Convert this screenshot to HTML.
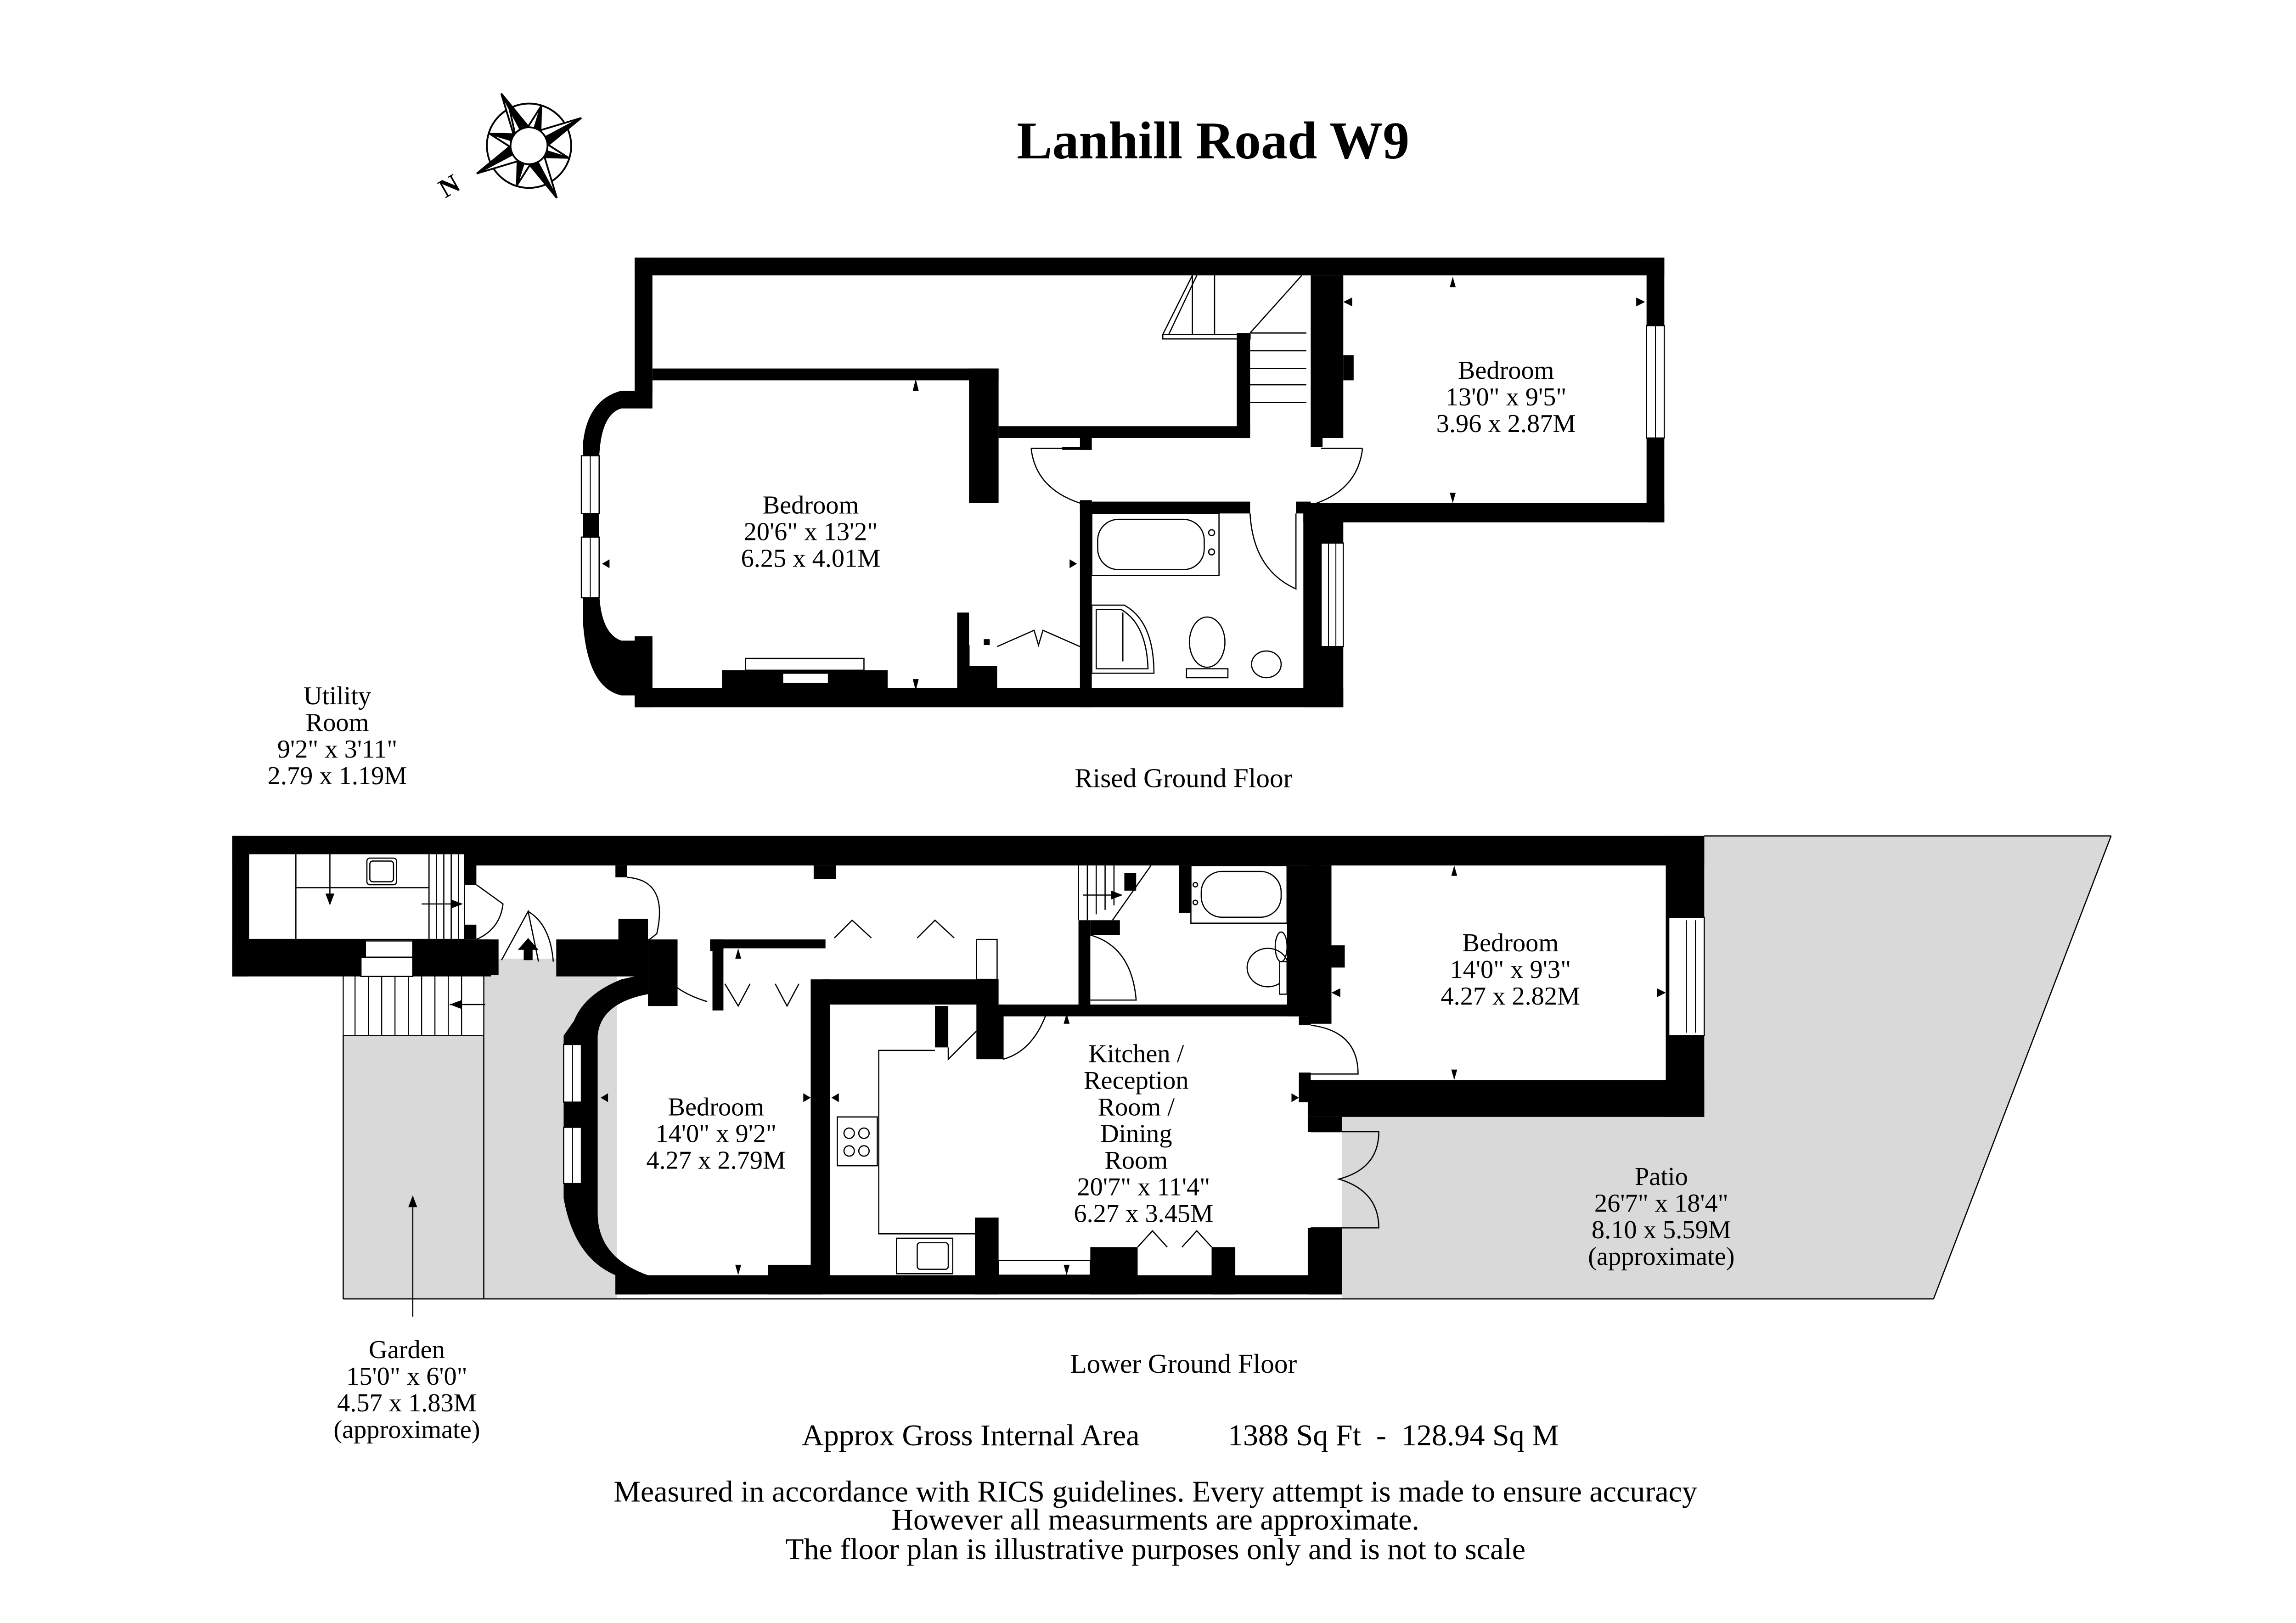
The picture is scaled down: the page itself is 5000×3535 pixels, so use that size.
<!DOCTYPE html>
<html><head><meta charset="utf-8"><style>
html,body{margin:0;padding:0;background:#fff;}
svg{display:block;}
text{font-family:"Liberation Serif",serif;fill:#000;}
</style></head><body>
<svg width="5000" height="3535" viewBox="0 0 1552 1097" xmlns="http://www.w3.org/2000/svg">
<rect width="1552" height="1097" fill="#fff"/>

<!-- Title -->
<text x="820" y="107" font-size="36" font-weight="bold" text-anchor="middle">Lanhill Road W9</text>

<!-- Compass -->
<g transform="translate(357.6,98.4) rotate(-28)" stroke="#000" stroke-width="1.2">
  <circle r="28.5" fill="#fff"/>
  <g id="lp">
    <polygon points="0,-40 -6,-10 0,-12" fill="#fff"/>
    <polygon points="0,-40 6,-10 0,-12" fill="#000"/>
  </g>
  <use href="#lp" transform="rotate(90)"/>
  <use href="#lp" transform="rotate(180)"/>
  <use href="#lp" transform="rotate(270)"/>
  <g id="sp">
    <polygon points="0,-28 -5,-10 0,-12" fill="#fff"/>
    <polygon points="0,-28 5,-10 0,-12" fill="#000"/>
  </g>
  <use href="#sp" transform="rotate(45)"/>
  <use href="#sp" transform="rotate(135)"/>
  <use href="#sp" transform="rotate(225)"/>
  <use href="#sp" transform="rotate(315)"/>
  <circle r="12.5" fill="#fff"/>
</g>
<text x="0" y="0" font-size="18" font-weight="bold" transform="translate(301,134) rotate(-30)">N</text>

<!-- ============ UPPER FLOOR ============ -->
<g fill="#000">
  <rect x="429" y="174" width="696" height="12"/>
  <rect x="429" y="174" width="12" height="92"/>
  <rect x="1113" y="174" width="12" height="179"/>
  <rect x="881" y="340" width="244" height="13"/>
  <rect x="886" y="186" width="22" height="110"/>
  <rect x="908" y="240" width="7" height="17"/>
  <rect x="886" y="296" width="8" height="6"/>
  <rect x="881" y="340" width="27" height="138"/>
  <rect x="441" y="249" width="234" height="8"/>
  <rect x="655" y="249" width="20" height="91"/>
  <rect x="675" y="288" width="170" height="8"/>
  <rect x="836" y="225" width="9" height="71"/>
  <rect x="730" y="296" width="8" height="8"/>
  <rect x="718" y="302" width="20" height="2"/>
  <rect x="730" y="338" width="8" height="140"/>
  <rect x="730" y="339" width="115" height="8"/>
  <rect x="876" y="339" width="10" height="8"/>
  <rect x="429" y="465" width="479" height="13"/>
  <rect x="429" y="430" width="12" height="48"/>
  <rect x="647" y="414" width="8" height="51"/>
  <rect x="655" y="450" width="19" height="15"/>
  <rect x="665" y="432" width="4" height="4"/>
  <rect x="488" y="453" width="112" height="12"/>
</g>
<rect x="529" y="455" width="31" height="7" fill="#fff" stroke="#000" stroke-width="0.8"/>
<rect x="504" y="445" width="80" height="8" fill="#fff" stroke="#000" stroke-width="0.8"/>

<path d="M429,264 L420,264 Q397,270 394,300 L394,420 Q397,465 420,470 L429,470 L441,470 L441,433 L420,433 Q406,428 405,400 L405,310 Q406,280 420,276 L441,276 L441,256 Z" fill="#000"/>
<rect x="393" y="308" width="12" height="39" fill="#fff" stroke="#000" stroke-width="0.8"/>
<rect x="393" y="363" width="12" height="41" fill="#fff" stroke="#000" stroke-width="0.8"/>
<line x1="399" y1="308" x2="399" y2="347" stroke="#000" stroke-width="0.6"/>
<line x1="399" y1="363" x2="399" y2="404" stroke="#000" stroke-width="0.6"/>

<rect x="1113" y="220" width="12" height="76" fill="#fff" stroke="#000" stroke-width="0.8"/>
<line x1="1119" y1="220" x2="1119" y2="296" stroke="#000" stroke-width="0.6"/>
<rect x="893" y="367" width="15" height="70" fill="#fff" stroke="#000" stroke-width="0.8"/>
<line x1="898" y1="367" x2="898" y2="437" stroke="#000" stroke-width="0.6"/>
<line x1="903" y1="367" x2="903" y2="437" stroke="#000" stroke-width="0.6"/>

<g stroke="#000" stroke-width="0.8" fill="none">
  <line x1="845" y1="237" x2="883" y2="237"/>
  <line x1="845" y1="249" x2="883" y2="249"/>
  <line x1="845" y1="260" x2="883" y2="260"/>
  <line x1="845" y1="272" x2="883" y2="272"/>
  <line x1="845" y1="225" x2="883" y2="225"/>
  <line x1="843" y1="225" x2="843" y2="285"/>
  <polygon points="786,226 845,226 845,229 786,229"/>
  <line x1="786" y1="226" x2="806" y2="186"/>
  <line x1="790" y1="226" x2="809" y2="186"/>
  <line x1="806" y1="186" x2="806" y2="226"/>
  <line x1="821" y1="186" x2="821" y2="226"/>
  <line x1="845" y1="225" x2="880" y2="186"/>
</g>
<g stroke="#000" stroke-width="0.8" fill="none">
  <path d="M697,303 Q700,330 730,340"/>
  <line x1="697" y1="303" x2="730" y2="303"/>
  <path d="M921,303 Q918,330 890,340"/>
  <line x1="921" y1="303" x2="893" y2="303"/>
  <path d="M845,347 Q847,385 876,398 L876,347"/>
  <polyline points="674,437 699,426 702,436 705,426 730,437"/>
  <line x1="655" y1="436" x2="655" y2="465"/>
</g>
<g stroke="#000" stroke-width="0.8" fill="#fff">
  <rect x="738" y="347" width="86" height="42"/>
  <rect x="742" y="351" width="72" height="34" rx="14"/>
  <circle cx="819" cy="360" r="2"/>
  <circle cx="819" cy="373" r="2"/>
  <path d="M738,409 L760,409 Q780,420 780,455 L738,455 Z"/>
  <path d="M741,412 L758,412 Q775,422 776,452 L741,452 Z"/>
  <line x1="759" y1="414" x2="759" y2="447"/>
  <rect x="802" y="452" width="28" height="6"/>
  <ellipse cx="816" cy="434" rx="12" ry="17"/>
  <ellipse cx="856" cy="449" rx="10" ry="9"/>
</g>
<g fill="#000">
  <polygon points="617,256 619,264 621,256" transform="rotate(180 619 260)"/>
  <polygon points="617,467 619,459 621,467" transform="rotate(180 619 463)"/>
  <polygon points="407,381 412,378 412,384"/>
  <polygon points="728,381 723,378 723,384"/>
  <polygon points="982,187 980,194 984,194"/>
  <polygon points="982,340 980,333 984,333"/>
  <polygon points="908,204 914,201 914,207"/>
  <polygon points="1112,204 1106,201 1106,207"/>
</g>

<g font-size="17.5" text-anchor="middle">
  <text x="548" y="347">Bedroom</text>
  <text x="548" y="365">20'6" x 13'2"</text>
  <text x="548" y="383">6.25 x 4.01M</text>
  <text x="1018" y="256">Bedroom</text>
  <text x="1018" y="274">13'0" x 9'5"</text>
  <text x="1018" y="292">3.96 x 2.87M</text>
</g>
<text x="800" y="532" font-size="18.4" text-anchor="middle">Rised Ground Floor</text>

<!-- ============ LOWER FLOOR ============ -->
<polygon points="1152,565 1427,565 1307,878 907,878 907,755 1152,755" fill="#d9d9d9"/>
<rect x="232" y="700" width="185" height="178" fill="#d9d9d9"/>
<rect x="327" y="648" width="90" height="52" fill="#d9d9d9"/>
<line x1="232" y1="878" x2="1307" y2="878" stroke="#000" stroke-width="0.8"/>
<line x1="1152" y1="565" x2="1427" y2="565" stroke="#000" stroke-width="0.8"/>
<line x1="1427" y1="565" x2="1307" y2="878" stroke="#000" stroke-width="0.8"/>
<line x1="327" y1="660" x2="327" y2="878" stroke="#000" stroke-width="0.8"/>
<line x1="232" y1="700" x2="232" y2="878" stroke="#000" stroke-width="0.8"/>
<line x1="232" y1="700" x2="327" y2="700" stroke="#000" stroke-width="0.8"/>
<g stroke="#000" stroke-width="0.7">
  <rect x="232" y="658" width="95" height="42" fill="#fff"/>
  <line x1="240" y1="658" x2="240" y2="700"/><line x1="249" y1="658" x2="249" y2="700"/>
  <line x1="258" y1="658" x2="258" y2="700"/><line x1="267" y1="658" x2="267" y2="700"/>
  <line x1="276" y1="658" x2="276" y2="700"/><line x1="285" y1="658" x2="285" y2="700"/>
  <line x1="294" y1="658" x2="294" y2="700"/><line x1="303" y1="658" x2="303" y2="700"/>
  <line x1="312" y1="658" x2="312" y2="700"/>
</g>

<g fill="#000">
  <rect x="157" y="565" width="995" height="20"/>
  <rect x="157" y="565" width="11" height="95"/>
  <rect x="157" y="635" width="90" height="25"/>
  <rect x="279" y="635" width="53" height="25"/>
  <rect x="322" y="635" width="15" height="24"/>
  <rect x="314" y="584" width="8" height="14"/>
  <rect x="314" y="625" width="8" height="10"/>
  <rect x="376" y="635" width="62" height="25"/>
  <rect x="416" y="585" width="8" height="8"/>
  <rect x="418" y="621" width="20" height="26"/>
  <rect x="550" y="585" width="15" height="9"/>
  <rect x="438" y="635" width="20" height="45"/>
  <rect x="548" y="662" width="13" height="212"/>
  <rect x="416" y="862" width="491" height="13"/>
  <rect x="480" y="635" width="9" height="8"/>
  <rect x="482" y="638" width="7" height="45"/>
  <rect x="480" y="635" width="78" height="6"/>
  <rect x="556" y="662" width="119" height="17"/>
  <rect x="660" y="635" width="14" height="44"/>
  <rect x="632" y="680" width="9" height="28"/>
  <rect x="660" y="679" width="18" height="37"/>
  <rect x="675" y="679" width="208" height="8"/>
  <rect x="729" y="622" width="8" height="58"/>
  <rect x="737" y="622" width="20" height="10"/>
  <rect x="760" y="590" width="8" height="12"/>
  <rect x="797" y="585" width="8" height="32"/>
  <rect x="870" y="585" width="23" height="102"/>
  <rect x="893" y="639" width="16" height="15"/>
  <rect x="884" y="585" width="16" height="107"/>
  <rect x="1126" y="565" width="26" height="190"/>
  <rect x="884" y="730" width="268" height="25"/>
  <rect x="878" y="687" width="8" height="6"/>
  <rect x="878" y="725" width="8" height="20"/>
  <rect x="884" y="755" width="23" height="10"/>
  <rect x="884" y="830" width="23" height="45"/>
  <rect x="737" y="843" width="32" height="32"/>
  <rect x="819" y="843" width="16" height="32"/>
  <rect x="659" y="823" width="16" height="52"/>
  <rect x="519" y="855" width="37" height="20"/>
</g>
<path d="M438,658 L420,662 Q395,672 388,690 L381,700 L381,810 Q388,850 416,862 L416,875 L438,875 L438,862 Q404,850 404,820 L404,700 Q406,678 438,672 Z" fill="#000"/>
<rect x="381" y="706" width="12" height="39" fill="#fff" stroke="#000" stroke-width="0.8"/>
<rect x="381" y="762" width="12" height="38" fill="#fff" stroke="#000" stroke-width="0.8"/>
<line x1="387" y1="706" x2="387" y2="745" stroke="#000" stroke-width="0.6"/>
<line x1="387" y1="762" x2="387" y2="800" stroke="#000" stroke-width="0.6"/>
<rect x="1128" y="620" width="24" height="80" fill="#fff" stroke="#000" stroke-width="0.8"/>
<line x1="1140" y1="622" x2="1140" y2="698" stroke="#000" stroke-width="0.6"/>
<line x1="1146" y1="622" x2="1146" y2="698" stroke="#000" stroke-width="0.6"/>

<g stroke="#000" stroke-width="0.8" fill="none">
  <rect x="168" y="577" width="146" height="58" fill="#fff"/>
  <line x1="200" y1="577" x2="200" y2="635"/>
  <line x1="290" y1="577" x2="290" y2="635"/>
  <line x1="200" y1="600" x2="290" y2="600"/>
  <line x1="295" y1="577" x2="295" y2="635"/><line x1="300" y1="577" x2="300" y2="635"/>
  <line x1="305" y1="577" x2="305" y2="635"/><line x1="310" y1="577" x2="310" y2="635"/>
  <rect x="248" y="580" width="20" height="18" rx="2"/>
  <rect x="250" y="582" width="16" height="14" rx="2"/>
  <line x1="223" y1="565" x2="223" y2="610"/>
  <line x1="285" y1="611" x2="310" y2="611"/>
  <line x1="304" y1="679" x2="328" y2="679"/>
  <line x1="279" y1="813" x2="279" y2="890"/>
  <rect x="247" y="636" width="32" height="11" fill="#fff"/>
  <rect x="244" y="647" width="35" height="13" fill="#fff"/>
  <path d="M322,598 L340,611 Q338,628 322,635"/>
  <polyline points="339,649 357,616 364,650"/>
  <path d="M357,616 Q372,625 374,650"/>
  <path d="M424,593 Q452,595 444,631 Q434,640 424,640"/>
  <path d="M444,647 Q448,668 478,677"/>
  <polyline points="564,634 576,622 589,634"/>
  <polyline points="620,634 632,622 645,634"/>
  <polyline points="490,665 499,680 507,665"/>
  <polyline points="524,665 532,680 540,665"/>
  <line x1="482" y1="641" x2="482" y2="683"/>
  <rect x="660" y="635" width="14" height="27" fill="#fff"/>
  <path d="M737,632 Q765,640 768,676 L737,676"/>
  <path d="M678,716 Q700,710 709,680"/>
  <line x1="678" y1="679" x2="678" y2="716"/>
  <polyline points="641,708 641,716 660,697"/>
  <path d="M886,693 Q918,697 918,726 L886,726"/>
  <path d="M886,765 L932,765 Q932,790 905,797 Q932,805 932,830 L886,830"/>
  <polyline points="769,843 779,832 789,843"/>
  <polyline points="799,843 809,832 819,843"/>
  <rect x="675" y="852" width="62" height="10" fill="#fff"/>
  <polyline points="632,710 594,710 594,834 659,834"/>
  <rect x="566" y="755" width="27" height="33" fill="#fff"/>
  <circle cx="574" cy="766" r="3.5"/><circle cx="584" cy="766" r="3.5"/>
  <circle cx="574" cy="778" r="3.5"/><circle cx="584" cy="778" r="3.5"/>
  <rect x="606" y="837" width="38" height="24" fill="#fff"/>
  <rect x="620" y="840" width="21" height="18" rx="2"/>
  <line x1="729" y1="585" x2="729" y2="622"/>
  <line x1="735" y1="585" x2="735" y2="622"/>
  <line x1="741" y1="585" x2="741" y2="618"/>
  <line x1="747" y1="585" x2="747" y2="615"/>
  <line x1="753" y1="585" x2="753" y2="612"/>
  <line x1="752" y1="622" x2="778" y2="585"/>
  <line x1="732" y1="605" x2="752" y2="605"/>
  <rect x="805" y="585" width="65" height="39" fill="#fff"/>
  <rect x="812" y="589" width="54" height="31" rx="14"/>
  <circle cx="808" cy="598" r="1.5"/><circle cx="808" cy="610" r="1.5"/>
  <ellipse cx="857" cy="654" rx="14" ry="13"/>
  <rect x="865" y="650" width="5" height="22" fill="#fff"/>
  <ellipse cx="866" cy="640" rx="4" ry="10"/>
</g>
<g fill="#000">
  <polygon points="223,612 220,604 226,604"/>
  <polygon points="313,611 305,608 305,614"/>
  <polygon points="304,679 312,676 312,682"/>
  <polygon points="279,808 276,816 282,816"/>
  <polygon points="357,634 350,642 364,642"/>
  <rect x="354" y="641" width="6" height="8"/>
  <polygon points="759,605 751,602 751,608"/>
  <polygon points="499,641 497,648 501,648"/>
  <polygon points="499,862 497,855 501,855"/>
  <polygon points="406,742 411,739 411,745"/>
  <polygon points="548,742 543,739 543,745"/>
  <polygon points="562,742 567,739 567,745"/>
  <polygon points="878,742 873,739 873,745"/>
  <polygon points="721,685 719,692 723,692"/>
  <polygon points="721,862 719,855 723,855"/>
  <polygon points="983,585 981,592 985,592"/>
  <polygon points="983,730 981,723 985,723"/>
  <polygon points="900,671 906,668 906,674"/>
  <polygon points="1126,671 1120,668 1120,674"/>
</g>

<g font-size="17.5" text-anchor="middle">
  <text x="228" y="476">Utility</text>
  <text x="228" y="494">Room</text>
  <text x="228" y="512">9'2" x 3'11"</text>
  <text x="228" y="530">2.79 x 1.19M</text>
  <text x="484" y="754">Bedroom</text>
  <text x="484" y="772">14'0" x 9'2"</text>
  <text x="484" y="790">4.27 x 2.79M</text>
  <text x="768" y="718">Kitchen /</text>
  <text x="768" y="736">Reception</text>
  <text x="768" y="754">Room /</text>
  <text x="768" y="772">Dining</text>
  <text x="768" y="790">Room</text>
  <text x="773" y="808">20'7" x 11'4"</text>
  <text x="773" y="826">6.27 x 3.45M</text>
  <text x="1021" y="643">Bedroom</text>
  <text x="1021" y="661">14'0" x 9'3"</text>
  <text x="1021" y="679">4.27 x 2.82M</text>
  <text x="1123" y="801">Patio</text>
  <text x="1123" y="819">26'7" x 18'4"</text>
  <text x="1123" y="837">8.10 x 5.59M</text>
  <text x="1123" y="855">(approximate)</text>
  <text x="275" y="918">Garden</text>
  <text x="275" y="936">15'0" x 6'0"</text>
  <text x="275" y="954">4.57 x 1.83M</text>
  <text x="275" y="972">(approximate)</text>
</g>
<text x="800" y="928" font-size="18.4" text-anchor="middle">Lower Ground Floor</text>

<text x="542" y="977" font-size="20.5">Approx Gross Internal Area</text>
<text x="830" y="977" font-size="20.5" xml:space="preserve">1388 Sq Ft  -  128.94 Sq M</text>
<g font-size="20.5" text-anchor="middle">
  <text x="781" y="1015">Measured in accordance with RICS guidelines. Every attempt is made to ensure accuracy</text>
  <text x="781" y="1034">However all measurments are approximate.</text>
  <text x="781" y="1054">The floor plan is illustrative purposes only and is not to scale</text>
</g>
</svg>
</body></html>
